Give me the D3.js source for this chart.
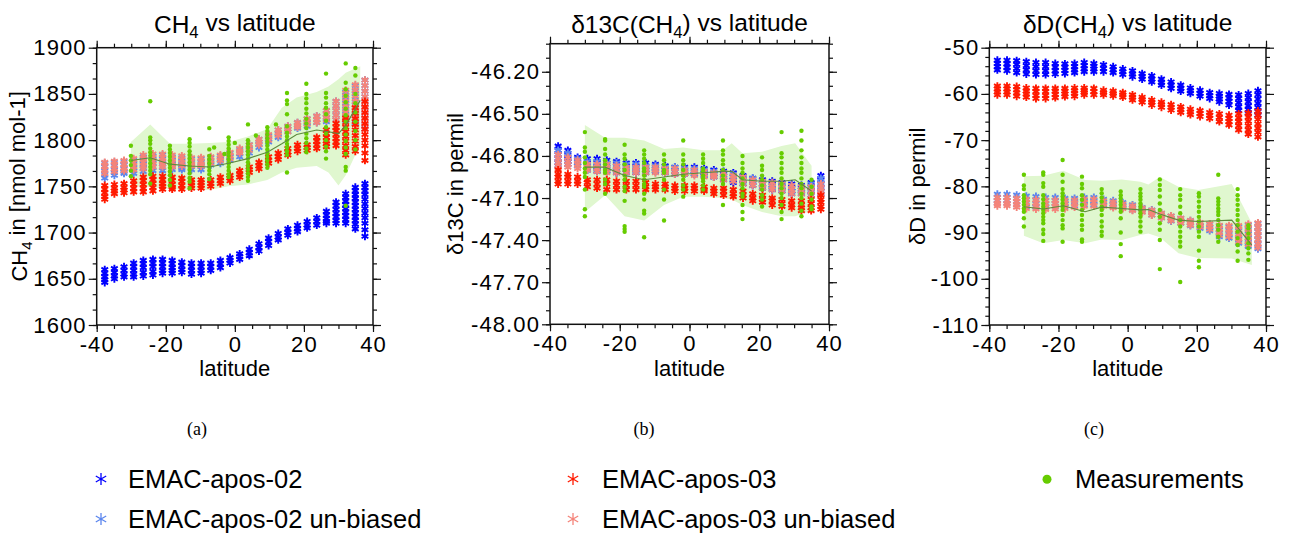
<!DOCTYPE html>
<html>
<head>
<meta charset="utf-8">
<script src="https://cdn.jsdelivr.net/npm/d3@7"></script>
<style>
  body { margin: 0; background: #fff; }
</style>
</head>
<body>
<script>
// ---------- data ----------
// model latitudes (T42 grid)
let lats = [-37.67, -34.88, -32.09, -29.30, -26.51, -23.72, -20.93, -18.14, -15.35, -12.56,
  -9.77, -6.98, -4.19, -1.40, 1.40, 4.19, 6.98, 9.77, 12.56, 15.35,
  18.14, 20.93, 23.72, 26.51, 29.30, 32.09, 34.88, 37.67];

let latTicks = [-40, -20, 0, 20, 40];
let ch4Ticks = [1600, 1650, 1700, 1750, 1800, 1850, 1900];
let d13cTicks = [-48.00, -47.70, -47.40, -47.10, -46.80, -46.50, -46.20];
let ddTicks = [-110, -100, -90, -80, -70, -60, -50];

let legendNames = ["EMAC-apos-02", "EMAC-apos-02 un-biased", "EMAC-apos-03", "EMAC-apos-03 un-biased", "Measurements"];

// ---- CH4 ----
let ch4E02 = [
  [1660, 1656, 1652, 1649, 1646], [1661, 1657, 1653, 1650], [1663, 1659, 1655, 1652],
  [1667, 1663, 1659, 1655, 1652], [1670, 1666, 1662, 1657, 1653], [1671, 1667, 1663, 1658, 1654],
  [1671, 1667, 1663, 1659, 1656], [1670, 1666, 1662, 1659, 1656], [1668, 1664, 1660, 1657],
  [1667, 1663, 1659, 1655], [1667, 1663, 1659, 1656], [1667, 1663, 1659],
  [1670, 1666, 1662], [1673, 1670, 1667], [1677, 1674, 1671], [1682, 1678, 1675],
  [1688, 1684, 1680], [1694, 1690, 1686], [1699, 1695, 1692], [1704, 1700, 1697],
  [1708, 1704, 1701], [1712, 1708, 1705], [1716, 1712, 1708], [1723, 1719, 1715, 1712, 1710],
  [1733, 1729, 1725, 1721, 1717, 1713, 1710],
  [1742, 1738, 1734, 1730, 1726, 1722, 1718, 1714, 1710],
  [1749, 1745, 1741, 1737, 1733, 1729, 1725, 1721, 1717, 1713, 1709, 1704],
  [1753, 1749, 1745, 1741, 1736, 1731, 1726, 1721, 1716, 1710, 1703, 1696]
];
let ch4E02u = [
  [1775, 1771, 1767, 1763, 1759], [1776, 1772, 1768, 1765, 1762], [1777, 1773, 1769, 1766, 1764],
  [1778, 1774, 1770, 1767, 1764], [1782, 1778, 1774, 1770, 1766], [1783, 1779, 1775, 1771, 1767],
  [1784, 1780, 1776, 1771, 1767], [1782, 1778, 1774, 1771, 1768], [1781, 1777, 1773, 1770, 1768],
  [1780, 1776, 1772, 1768], [1780, 1776, 1772, 1768], [1781, 1777, 1773],
  [1783, 1779, 1775], [1786, 1782, 1778], [1790, 1786, 1782], [1795, 1790, 1786],
  [1801, 1796, 1792], [1805, 1801, 1798], [1811, 1807, 1803], [1815, 1812, 1809],
  [1819, 1816, 1813], [1823, 1819, 1815], [1826, 1822, 1819], [1832, 1828, 1824, 1820],
  [1842, 1837, 1832, 1827, 1822], [1852, 1846, 1840, 1834, 1828, 1821],
  [1859, 1853, 1847, 1841, 1835, 1829, 1823, 1818],
  [1865, 1859, 1853, 1847, 1841, 1835, 1829, 1823, 1817, 1812]
];
let ch4E03 = [
  [1751, 1747, 1743, 1739, 1736], [1752, 1748, 1745, 1742], [1753, 1749, 1746, 1743],
  [1756, 1752, 1748, 1744], [1760, 1756, 1752, 1748, 1744], [1761, 1757, 1753, 1749, 1745],
  [1761, 1757, 1753, 1750, 1747], [1760, 1756, 1752, 1749, 1747], [1759, 1755, 1751, 1747],
  [1757, 1754, 1751, 1748], [1757, 1754, 1751, 1748], [1757, 1753, 1750],
  [1760, 1756, 1753], [1762, 1759, 1756], [1767, 1763, 1760], [1771, 1768, 1765],
  [1776, 1772, 1769], [1782, 1778, 1775], [1786, 1782, 1779], [1791, 1787, 1784],
  [1795, 1791, 1788], [1795, 1792, 1789], [1803, 1799, 1795, 1791],
  [1811, 1807, 1803, 1799, 1796, 1793], [1818, 1814, 1810, 1806, 1802, 1798, 1794],
  [1824, 1819, 1814, 1809, 1804, 1799, 1794, 1789, 1784],
  [1835, 1829, 1823, 1817, 1811, 1805, 1799, 1793, 1788],
  [1842, 1836, 1830, 1824, 1818, 1812, 1806, 1800, 1794, 1786, 1778]
];
let ch4E03u = [
  [1776, 1772, 1768, 1764], [1777, 1773, 1769, 1766], [1778, 1774, 1770, 1767],
  [1780, 1776, 1772, 1768], [1784, 1780, 1776, 1772, 1769], [1785, 1781, 1777, 1774, 1771],
  [1785, 1781, 1777, 1774, 1771], [1784, 1780, 1776, 1773, 1771], [1783, 1779, 1775, 1772],
  [1781, 1777, 1774, 1772], [1781, 1777, 1774, 1772], [1782, 1778, 1775],
  [1784, 1781, 1778], [1787, 1783, 1780], [1791, 1788, 1786], [1795, 1792, 1789],
  [1801, 1798, 1795], [1806, 1803, 1800], [1811, 1808, 1805], [1815, 1812, 1809],
  [1819, 1816, 1814], [1823, 1820, 1817], [1826, 1822, 1819], [1832, 1828, 1825, 1822],
  [1842, 1837, 1832, 1827, 1822], [1854, 1848, 1842, 1836, 1830, 1826, 1822],
  [1860, 1854, 1848, 1842, 1836, 1830, 1824, 1817],
  [1865, 1859, 1853, 1847, 1841, 1835, 1829, 1823, 1817, 1811]
];
let ch4MeasLat = [-30.1, -24.5, -18.8, -13.1, -7.4, -6.0, -3.0, -1.8, 0.0, 3.8, 6.1, 9.4, 11.9, 15.1, 20.7, 26.4, 32.1, 34.9];
let ch4Meas = [
  [1794, 1783, 1778, 1773, 1767, 1761],
  [1842, 1803, 1800, 1796, 1791, 1787, 1783, 1779, 1775, 1771, 1767, 1763, 1753],
  [1794, 1790, 1786, 1782, 1778, 1774, 1770, 1766, 1762, 1757, 1751],
  [1801, 1797, 1793, 1788, 1784, 1780, 1776, 1772, 1768, 1764, 1759, 1755, 1748],
  [1813, 1790, 1783, 1779, 1775, 1771, 1767, 1763, 1758],
  [1792], [1785],
  [1803, 1799, 1795, 1791, 1787, 1783, 1779, 1775, 1771, 1767, 1763, 1760],
  [1797],
  [1817, 1800, 1796, 1792, 1788, 1784, 1780, 1776, 1772, 1768, 1764, 1760, 1756],
  [1805],
  [1814, 1810, 1806, 1802, 1798, 1794, 1790, 1786, 1782, 1778, 1774, 1770],
  [1817],
  [1851, 1843, 1839, 1828, 1815, 1808, 1804, 1800, 1796, 1792, 1788, 1784, 1765],
  [1861, 1850, 1845, 1840, 1834, 1829, 1823, 1818, 1813, 1807, 1802, 1797, 1791, 1787],
  [1872, 1851, 1846, 1840, 1835, 1828, 1821, 1814, 1807, 1800, 1793, 1788, 1780],
  [1883, 1862, 1855, 1848, 1841, 1834, 1827, 1820, 1813, 1806, 1799, 1792, 1785, 1771, 1767, 1729],
  [1878, 1870, 1850, 1840, 1830, 1820, 1810, 1800, 1790]
];
let ch4BandLat = [-30.1, -24.5, -18.8, -13.1, -7.4, -1.8, 3.8, 9.4, 13.6, 17.9, 23.7, 27.1, 30.0, 32.1, 36.3];
let ch4Mean = [1778, 1781, 1774, 1772, 1771, 1775, 1780, 1787, 1796, 1806, 1811, 1809, 1807, 1816, 1843];
let ch4Hi = [1798, 1817, 1796, 1796, 1797, 1798, 1804, 1812, 1835, 1846, 1852, 1858, 1866, 1873, 1880];
let ch4Lo = [1750, 1749, 1747, 1746, 1746, 1750, 1752, 1757, 1765, 1770, 1772, 1765, 1751, 1762, 1795];

// ---- d13C ----
let d13cE02 = [
  [-46.73, -46.76, -46.79, -46.82, -46.85, -46.87], [-46.76, -46.79, -46.82, -46.84, -46.86],
  [-46.81, -46.84, -46.87], [-46.82, -46.85, -46.88, -46.90], [-46.82, -46.85, -46.88, -46.91],
  [-46.83, -46.86, -46.89, -46.91], [-46.84, -46.87, -46.90, -46.92], [-46.85, -46.88, -46.90, -46.92],
  [-46.85, -46.88, -46.90, -46.92], [-46.85, -46.88, -46.90, -46.92], [-46.86, -46.89, -46.91],
  [-46.87, -46.90, -46.92], [-46.88, -46.91, -46.93], [-46.88, -46.91, -46.93], [-46.88, -46.91, -46.93],
  [-46.89, -46.92, -46.94], [-46.90, -46.93, -46.95], [-46.91, -46.94, -46.97],
  [-46.92, -46.95, -46.97, -46.99], [-46.94, -46.97, -47.00], [-46.96, -46.99, -47.01],
  [-46.97, -47.00, -47.03], [-46.98, -47.01, -47.04], [-46.99, -47.02, -47.05],
  [-47.00, -47.03, -47.05, -47.07], [-47.01, -47.04, -47.07], [-46.99, -47.02, -47.05, -47.08],
  [-46.94, -46.97, -47.00, -47.03, -47.05, -47.07]
];
let d13cE02u = [
  [-46.76, -46.79, -46.82, -46.85, -46.87], [-46.78, -46.81, -46.84, -46.86], [-46.82, -46.85, -46.87],
  [-46.84, -46.87, -46.90], [-46.84, -46.87, -46.90], [-46.85, -46.88, -46.91], [-46.85, -46.88, -46.91],
  [-46.86, -46.89, -46.92], [-46.86, -46.89, -46.91], [-46.87, -46.89, -46.91], [-46.87, -46.89, -46.91],
  [-46.88, -46.90, -46.92], [-46.88, -46.91, -46.93], [-46.89, -46.91, -46.93], [-46.89, -46.91, -46.93],
  [-46.90, -46.92, -46.94], [-46.91, -46.93, -46.95], [-46.92, -46.94, -46.96], [-46.93, -46.95, -46.98],
  [-46.95, -46.97, -46.99], [-46.96, -46.98, -47.01], [-46.98, -47.00, -47.02], [-46.99, -47.01, -47.03],
  [-47.00, -47.02, -47.04], [-47.01, -47.03, -47.06], [-47.02, -47.04, -47.06], [-47.00, -47.03, -47.06],
  [-46.96, -46.99, -47.02, -47.05]
];
let d13cE03 = [
  [-46.90, -46.93, -46.95, -46.98, -47.00], [-46.93, -46.95, -46.98, -47.00], [-46.95, -46.98, -47.00],
  [-46.97, -46.99, -47.02], [-46.97, -47.00, -47.03], [-46.97, -47.00, -47.04], [-46.98, -47.01, -47.04],
  [-46.98, -47.01, -47.04], [-46.98, -47.01, -47.04], [-46.99, -47.02, -47.04], [-47.00, -47.02, -47.04],
  [-47.00, -47.02, -47.04], [-47.01, -47.03, -47.05], [-47.01, -47.03, -47.05], [-47.01, -47.03, -47.05],
  [-47.02, -47.04, -47.05], [-47.03, -47.05, -47.07], [-47.03, -47.05, -47.08], [-47.04, -47.07, -47.09],
  [-47.05, -47.08, -47.10], [-47.07, -47.10, -47.12], [-47.08, -47.11, -47.13], [-47.10, -47.12, -47.15],
  [-47.11, -47.14, -47.16], [-47.12, -47.15, -47.17], [-47.12, -47.15, -47.17, -47.19],
  [-47.11, -47.14, -47.17, -47.19], [-47.08, -47.11, -47.13, -47.16, -47.18]
];
let d13cE03u = [
  [-46.79, -46.82, -46.85, -46.87, -46.89], [-46.81, -46.84, -46.86, -46.88], [-46.83, -46.86, -46.89],
  [-46.86, -46.88, -46.90], [-46.86, -46.89, -46.91], [-46.86, -46.89, -46.92], [-46.87, -46.90, -46.92],
  [-46.88, -46.90, -46.92], [-46.88, -46.90, -46.92], [-46.88, -46.90, -46.92], [-46.88, -46.90, -46.92],
  [-46.89, -46.91, -46.92], [-46.89, -46.91, -46.93], [-46.90, -46.92, -46.93], [-46.90, -46.92, -46.94],
  [-46.91, -46.93, -46.95], [-46.92, -46.94, -46.95], [-46.92, -46.95, -46.97], [-46.94, -46.96, -46.98],
  [-46.95, -46.97, -47.00], [-46.97, -46.99, -47.01], [-46.98, -47.00, -47.03], [-46.99, -47.02, -47.04],
  [-47.00, -47.03, -47.05], [-47.01, -47.04, -47.07], [-47.02, -47.05, -47.07], [-47.02, -47.05, -47.08],
  [-47.00, -47.03, -47.05, -47.07]
];
let d13cMeasLat = [-30.0, -24.2, -18.6, -13.0, -7.3, -1.8, 3.9, 9.6, 15.2, 20.8, 26.4, 32.1, 35.0];
let d13cMeas = [
  [-46.63, -46.74, -46.77, -46.81, -46.85, -46.89, -46.92, -46.95, -47.04, -47.18, -47.23],
  [-46.68, -46.69, -46.75, -46.79, -46.83, -46.86, -46.90, -46.92, -46.97, -47.00, -47.07],
  [-46.72, -46.79, -46.82, -46.86, -46.90, -46.94, -46.97, -47.02, -47.05, -47.12, -47.30, -47.32, -47.34],
  [-46.76, -46.79, -46.82, -46.85, -46.89, -46.91, -46.94, -46.97, -47.00, -47.02, -47.07, -47.11, -47.19, -47.21, -47.38],
  [-46.79, -46.83, -46.86, -46.90, -46.92, -46.97, -47.04, -47.11, -47.26],
  [-46.69, -46.79, -46.83, -46.86, -46.90, -46.94, -46.97, -47.01, -47.04, -47.09],
  [-46.79, -46.82, -46.85, -46.89, -46.91, -46.94, -46.96, -46.98, -47.01, -47.04],
  [-46.69, -46.76, -46.79, -46.83, -46.86, -46.90, -46.94, -46.97, -47.00, -47.15],
  [-46.80, -46.85, -46.89, -46.92, -46.96, -47.00, -47.03, -47.07, -47.09, -47.15, -47.20, -47.25],
  [-46.81, -46.87, -46.90, -46.94, -46.97, -47.01, -47.04, -47.08, -47.11, -47.16],
  [-46.63, -46.78, -46.81, -46.85, -46.89, -46.92, -46.96, -47.00, -47.03, -47.07, -47.10, -47.15, -47.20, -47.25],
  [-46.62, -46.69, -46.76, -46.81, -46.85, -46.89, -46.92, -46.96, -47.00, -47.03, -47.07, -47.10, -47.14, -47.19, -47.23],
  [-46.97, -47.02, -47.07, -47.11, -47.16, -47.18]
];
let d13cBandLat = [-30.0, -24.2, -18.6, -13.0, -7.3, -1.8, 3.9, 9.6, 12.1, 15.2, 20.8, 26.4, 30.3, 35.0];
let d13cMean = [-46.88, -46.88, -46.94, -46.97, -46.95, -46.93, -46.92, -46.91, -46.91, -46.97, -46.98, -46.98, -46.97, -47.05];
let d13cHi = [-46.58, -46.67, -46.67, -46.69, -46.75, -46.74, -46.76, -46.76, -46.71, -46.78, -46.77, -46.73, -46.71, -46.87];
let d13cLo = [-47.20, -47.08, -47.23, -47.26, -47.15, -47.09, -47.09, -47.10, -47.11, -47.15, -47.20, -47.23, -47.23, -47.19];

// ---- dD ----
let ddE02 = [
  [-52.7, -53.4, -54.1, -54.8], [-52.7, -53.5, -54.2, -55.0], [-52.8, -53.6, -54.5, -55.4],
  [-53.0, -53.9, -54.8, -55.7], [-53.2, -54.1, -55.0, -55.8], [-53.2, -54.1, -55.0, -55.8],
  [-53.4, -54.2, -55.0, -55.7], [-53.5, -54.2, -54.9, -55.6], [-53.4, -54.1, -54.8, -55.4],
  [-53.2, -53.9, -54.6, -55.2], [-53.4, -54.0, -54.6, -55.2], [-53.7, -54.5, -55.2],
  [-54.1, -54.8, -55.4], [-54.6, -55.2, -55.8], [-55.0, -55.7, -56.3], [-55.6, -56.2, -56.8],
  [-56.1, -56.8, -57.4], [-56.8, -57.5, -58.1], [-57.4, -58.1, -58.8], [-58.1, -58.8, -59.4],
  [-58.7, -59.3, -59.9], [-59.2, -59.9, -60.5], [-59.7, -60.4, -61.0], [-59.9, -60.5, -61.1, -61.7],
  [-60.1, -60.9, -61.6, -62.4], [-60.2, -61.0, -61.9, -62.8, -63.6],
  [-59.9, -60.8, -61.7, -62.6, -63.4, -64.2], [-59.3, -60.2, -61.1, -62.0, -62.9, -63.8, -64.6]
];
let ddE02u = [
  [-81.7, -82.4, -83.1, -83.7], [-81.7, -82.4, -83.1, -83.7], [-81.9, -82.6, -83.3, -84.0],
  [-82.1, -82.9, -83.6, -84.4], [-82.2, -83.0, -83.7, -84.5], [-82.4, -83.1, -83.8, -84.5],
  [-82.4, -83.1, -83.7, -84.4], [-82.6, -83.2, -83.8, -84.4], [-82.6, -83.3, -84.2],
  [-82.4, -83.2, -84.0], [-82.4, -83.2, -84.0], [-82.8, -83.4, -84.0], [-83.1, -83.8, -84.4],
  [-83.5, -84.1, -84.6], [-84.0, -84.6, -85.1], [-84.6, -85.0, -85.5], [-85.1, -85.6, -86.2],
  [-85.8, -86.3, -86.8], [-86.4, -86.9, -87.5], [-86.9, -87.4, -88.0], [-87.4, -87.9, -88.5],
  [-87.9, -88.5, -89.1], [-88.2, -88.9, -89.6], [-88.6, -89.4, -90.1, -90.9],
  [-88.7, -89.5, -90.4, -91.2], [-88.7, -89.6, -90.5, -91.4, -92.3],
  [-88.4, -89.3, -90.3, -91.2, -92.1, -93.0], [-88.0, -88.9, -89.8, -90.7, -91.6, -92.5, -93.5]
];
let ddE03 = [
  [-58.3, -58.9, -59.6, -60.2], [-58.3, -58.9, -59.6, -60.2], [-58.4, -59.1, -59.8, -60.5],
  [-58.7, -59.4, -60.0, -60.7], [-58.8, -59.5, -60.3, -61.0], [-58.8, -59.5, -60.3, -61.0],
  [-58.8, -59.4, -60.1, -60.8], [-58.8, -59.4, -60.0, -60.6], [-58.7, -59.3, -59.9, -60.5],
  [-58.7, -59.2, -59.7, -60.2], [-58.8, -59.5, -60.2], [-59.2, -59.7, -60.2], [-59.4, -59.9, -60.4],
  [-59.7, -60.2, -60.7], [-60.2, -60.7, -61.3], [-60.7, -61.2, -61.8], [-61.3, -61.8, -62.4],
  [-61.8, -62.3, -62.9], [-62.3, -62.9, -63.5], [-62.8, -63.4, -64.0], [-63.3, -63.9, -64.5],
  [-63.6, -64.2, -64.9], [-64.0, -64.6, -65.3], [-64.3, -65.1, -66.0], [-64.6, -65.3, -66.0, -66.7],
  [-64.3, -65.2, -66.0, -66.9, -67.8], [-64.1, -65.0, -65.9, -66.9, -67.8, -68.7],
  [-63.7, -64.6, -65.5, -66.5, -67.4, -68.3, -69.3]
];
let ddE03u = [
  [-82.4, -83.1, -83.8, -84.2], [-82.4, -83.1, -83.8, -84.2], [-82.6, -83.3, -84.0, -84.5],
  [-82.8, -83.5, -84.2, -84.8], [-82.9, -83.6, -84.3, -84.9], [-83.0, -83.7, -84.4, -85.0],
  [-83.0, -83.7, -84.3, -84.9], [-83.0, -83.6, -84.2, -84.8], [-83.0, -83.6, -84.5],
  [-82.8, -83.5, -84.3], [-82.8, -83.5, -84.3], [-83.1, -83.7, -84.3], [-83.4, -84.0, -84.6],
  [-83.8, -84.3, -84.8], [-84.2, -84.7, -85.2], [-84.7, -85.2, -85.6], [-85.2, -85.7, -86.2],
  [-85.8, -86.3, -86.8], [-86.4, -86.9, -87.4], [-86.9, -87.4, -87.9], [-87.4, -87.9, -88.4],
  [-87.8, -88.3, -88.8], [-88.1, -88.7, -89.3], [-88.4, -89.2, -89.9, -90.6],
  [-88.5, -89.3, -90.1, -90.9], [-88.5, -89.4, -90.3, -91.1, -92.0],
  [-88.2, -89.1, -90.0, -90.9, -91.8, -92.6], [-87.9, -88.8, -89.7, -90.6, -91.5, -92.4, -93.2]
];
let ddMeasLat = [-30.0, -24.4, -18.8, -13.2, -7.5, -2.0, 3.7, 9.3, 15.2, 20.6, 26.2, 31.8, 34.9];
let ddMeas = [
  [-77.5, -79.8, -80.6, -81.9, -82.6, -83.3, -84.0, -84.8, -85.5, -86.9, -88.7],
  [-77.0, -77.5, -79.3, -80.1, -81.9, -82.8, -83.7, -84.4, -85.1, -85.8, -86.6, -87.3, -88.0, -89.4, -90.3, -91.8],
  [-74.3, -77.5, -79.0, -80.6, -81.5, -82.2, -82.9, -83.7, -84.4, -85.1, -86.2, -87.3, -88.4, -89.1, -92.0],
  [-77.9, -79.5, -80.4, -81.9, -82.9, -84.0, -85.1, -86.2, -87.3, -88.4, -89.4, -91.5, -92.0],
  [-80.6, -81.5, -82.4, -83.3, -84.4, -85.1, -86.2, -87.6, -88.7, -89.8, -90.7],
  [-81.1, -81.9, -82.6, -83.3, -84.0, -84.8, -85.5, -86.9, -90.0, -92.5, -95.1],
  [-80.6, -81.5, -82.2, -82.9, -83.7, -84.4, -85.1, -85.8, -86.6, -87.6, -88.7, -89.8],
  [-78.5, -79.7, -80.8, -82.2, -83.7, -85.1, -86.6, -88.0, -89.4, -91.6, -97.9],
  [-80.6, -81.9, -82.9, -84.4, -85.8, -87.3, -88.7, -89.8, -90.9, -92.0, -93.0, -100.7],
  [-81.5, -82.2, -83.3, -84.4, -85.5, -86.6, -87.6, -88.7, -89.8, -90.9, -93.9, -96.1, -97.5],
  [-77.5, -82.6, -83.3, -84.0, -84.8, -85.5, -86.2, -87.3, -88.4, -89.4, -90.9, -92.0],
  [-80.6, -81.9, -82.9, -84.0, -85.1, -86.2, -87.3, -88.4, -89.8, -91.2, -92.7, -94.1, -96.1],
  [-88.4, -89.1, -90.2, -91.2, -92.3, -93.4, -94.5, -95.9]
];
let ddBandLat = [-30.0, -24.4, -18.6, -12.3, -7.5, -1.7, 3.7, 6.0, 9.3, 14.7, 20.4, 30.1, 35.9];
let ddMean = [-84.4, -84.9, -84.2, -85.5, -84.5, -84.8, -85.1, -85.0, -86.0, -87.3, -87.6, -87.3, -92.7];
let ddHi = [-77.8, -77.7, -76.6, -78.6, -78.8, -78.5, -79.0, -79.6, -78.0, -80.1, -80.8, -79.5, -88.0];
let ddLo = [-90.7, -92.3, -91.6, -92.3, -91.5, -91.6, -90.5, -90.2, -91.0, -94.5, -95.5, -95.6, -97.0];

// ---------- styles ----------
let cE02 = "#0000ff", cE02u = "#5b86ee", cE03 = "#ff1a00", cE03u = "#f4847a";
let cMeas = "#66cc00", cBand = "#e0f7cf", cMean = "#5e8a3e";
let font = "'Liberation Sans', Arial, Helvetica, sans-serif";

let svg = d3.select("body").append("svg")
  .attr("width", 1289)
  .attr("height", 534);

// six-armed asterisk
function star(r) {
  let a = r * Math.cos(Math.PI / 6), b = r * Math.sin(Math.PI / 6);
  return `M0,${-r}L0,${r}M${-a},${-b}L${a},${b}M${-a},${b}L${a},${-b}`;
}

let panels = [
  { x0: 96.7, x1: 373, y0: 47.7, y1: 325, dom: [1600, 1900], ticks: ch4Ticks, minor: 50 / 3,
    fmt: (d) => String(d), series: [ch4E02, ch4E02u, ch4E03u, ch4E03],
    measLat: ch4MeasLat, meas: ch4Meas, bandLat: ch4BandLat, mean: ch4Mean, hi: ch4Hi, lo: ch4Lo,
    title: ["CH", "4", " vs latitude"], ylab: ["CH", "4", " in [nmol mol-1]"], ylabX: 27, cap: "(a)", capX: 197 },
  { x0: 550, x1: 829, y0: 43.7, y1: 324.3, dom: [-48, -46], ticks: d13cTicks, minor: 0.1,
    fmt: (d) => d.toFixed(2), series: [d13cE02, d13cE02u, d13cE03u, d13cE03],
    measLat: d13cMeasLat, meas: d13cMeas, bandLat: d13cBandLat, mean: d13cMean, hi: d13cHi, lo: d13cLo,
    title: ["\u03b413C(CH", "4", ") vs latitude"], ylab: ["\u03b413C in permil"], ylabX: 463, cap: "(b)", capX: 644 },
  { x0: 989.3, x1: 1266, y0: 47.7, y1: 325, dom: [-110, -50], ticks: ddTicks, minor: 2,
    fmt: (d) => String(d), series: [ddE02, ddE02u, ddE03u, ddE03],
    measLat: ddMeasLat, meas: ddMeas, bandLat: ddBandLat, mean: ddMean, hi: ddHi, lo: ddLo,
    title: ["\u03b4D(CH", "4", ") vs latitude"], ylab: ["\u03b4D in permil"], ylabX: 925, cap: "(c)", capX: 1094 }
];
let colors = [cE02, cE02u, cE03u, cE03];

function addSubText(sel, parts) {
  parts.forEach((t, i) => {
    let ts = sel.append("tspan").text(t);
    if (parts.length === 3 && i === 1) ts.attr("font-size", "0.68em").attr("dy", "0.3em");
    if (parts.length === 3 && i === 2) ts.attr("dy", "-0.3em");
  });
}

panels.forEach((p) => {
  let xScale = d3.scaleLinear().domain([-40, 40]).range([p.x0, p.x1]);
  let yScale = d3.scaleLinear().domain(p.dom).range([p.y1, p.y0]);
  let g = svg.append("g");

  // spread band of measurements
  let area = d3.area()
    .x((d, i) => xScale(p.bandLat[i]))
    .y0((d, i) => yScale(p.lo[i]))
    .y1((d, i) => yScale(p.hi[i]));
  g.append("path").datum(p.bandLat).attr("d", area).attr("fill", cBand);

  // model asterisks
  p.series.forEach((s, k) => {
    let pts = [];
    s.forEach((col, i) => col.forEach((v) => pts.push([lats[i], v])));
    g.append("g").selectAll("path")
      .data(pts)
      .enter()
      .append("path")
      .attr("d", star(3.9))
      .attr("transform", (d) => "translate(" + xScale(d[0]) + "," + yScale(d[1]) + ")")
      .attr("stroke", colors[k])
      .attr("stroke-width", 1.9)
      .attr("fill", "none");
  });

  // measurements
  let mp = [];
  p.meas.forEach((col, i) => col.forEach((v) => mp.push([p.measLat[i], v])));
  g.append("g").selectAll("circle")
    .data(mp)
    .enter()
    .append("circle")
    .attr("cx", (d) => xScale(d[0]))
    .attr("cy", (d) => yScale(d[1]))
    .attr("r", 2.2)
    .attr("fill", cMeas);

  // mean line
  let line = d3.line().x((d, i) => xScale(p.bandLat[i])).y((d) => yScale(d));
  g.append("path").datum(p.mean).attr("d", line)
    .attr("fill", "none").attr("stroke", cMean).attr("stroke-width", 1.1);

  // axes: major + minor ticks on all four sides
  let minorX = d3.range(-40, 40.01, 5);
  let minorY = d3.range(p.dom[0], p.dom[1] + 1e-9, p.minor);
  let put = (gen, tr) => {
    let a = g.append("g").attr("transform", tr).call(gen);
    a.select(".domain").remove();
    a.selectAll("line").attr("stroke", "#111").attr("stroke-width", 1.2);
    a.selectAll("text").attr("font-family", font).attr("font-size", 22)
      .attr("letter-spacing", "1.1px").attr("fill", "#000");
    return a;
  };
  put(d3.axisBottom(xScale).tickValues(minorX).tickSize(4).tickFormat(""), `translate(0,${p.y1})`);
  put(d3.axisBottom(xScale).tickValues(latTicks).tickSize(7).tickPadding(4).tickFormat((d) => String(d)), `translate(0,${p.y1})`);
  put(d3.axisTop(xScale).tickValues(minorX).tickSize(4).tickFormat(""), `translate(0,${p.y0})`);
  put(d3.axisTop(xScale).tickValues(latTicks).tickSize(7).tickFormat(""), `translate(0,${p.y0})`);
  put(d3.axisLeft(yScale).tickValues(minorY).tickSize(4).tickFormat(""), `translate(${p.x0},0)`);
  put(d3.axisLeft(yScale).tickValues(p.ticks).tickSize(8).tickPadding(2).tickFormat(p.fmt), `translate(${p.x0},0)`);
  put(d3.axisRight(yScale).tickValues(minorY).tickSize(4).tickFormat(""), `translate(${p.x1},0)`);
  put(d3.axisRight(yScale).tickValues(p.ticks).tickSize(8).tickFormat(""), `translate(${p.x1},0)`);

  g.append("rect")
    .attr("x", p.x0).attr("y", p.y0)
    .attr("width", p.x1 - p.x0).attr("height", p.y1 - p.y0)
    .attr("fill", "none").attr("stroke", "#111").attr("stroke-width", 1.5);

  let cx = (p.x0 + p.x1) / 2;
  let t = g.append("text").attr("x", cx).attr("y", 33).attr("text-anchor", "middle")
    .attr("font-family", font).attr("font-size", 24.5);
  addSubText(t, p.title);

  g.append("text").attr("x", cx).attr("y", 376).attr("text-anchor", "middle")
    .attr("font-family", font).attr("font-size", 22).text("latitude");

  let yl = g.append("text")
    .attr("transform", `translate(${p.ylabX},${(p.y0 + p.y1) / 2}) rotate(-90)`)
    .attr("text-anchor", "middle")
    .attr("font-family", font).attr("font-size", 22);
  addSubText(yl, p.ylab);

  g.append("text").attr("x", p.capX).attr("y", 435)
    .attr("text-anchor", "middle")
    .attr("font-family", "'Liberation Serif', 'Times New Roman', serif").attr("font-size", 18)
    .text(p.cap);
});

// ---------- legend ----------
let legendRows = [
  { x: 101, y: 479, tx: 128, c: cE02 }, { x: 101, y: 519, tx: 128, c: cE02u },
  { x: 573, y: 479, tx: 602, c: cE03 }, { x: 573, y: 519, tx: 602, c: cE03u }
];
legendRows.forEach((r, i) => {
  svg.append("path").attr("d", star(6))
    .attr("transform", `translate(${r.x},${r.y})`)
    .attr("stroke", r.c).attr("stroke-width", 1.3).attr("fill", "none");
  svg.append("text").attr("x", r.tx).attr("y", r.y + 8.5)
    .attr("font-family", font).attr("font-size", 25.5).text(legendNames[i]);
});
svg.append("circle").attr("cx", 1047).attr("cy", 479.3).attr("r", 4.5).attr("fill", cMeas);
svg.append("text").attr("x", 1075).attr("y", 487.8)
  .attr("font-family", font).attr("font-size", 25.5).text(legendNames[4]);
</script>
</body>
</html>
